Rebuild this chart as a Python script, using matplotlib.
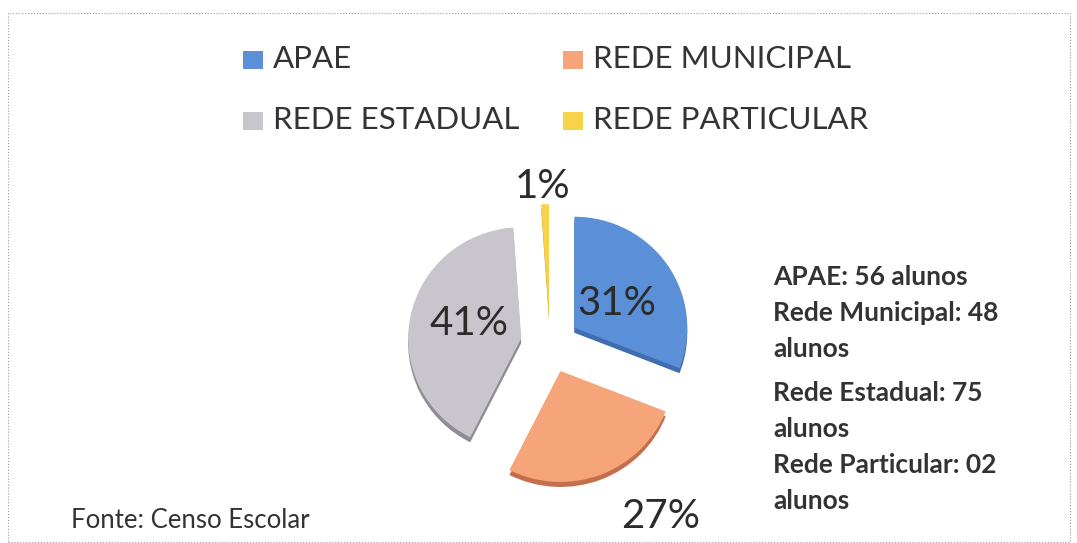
import textwrap
import numpy as np
import matplotlib.pyplot as plt
from matplotlib.patches import Rectangle

plt.rcParams['font.family'] = ['Lato', 'DejaVu Sans']

categorias = ['APAE', 'REDE MUNICIPAL', 'REDE ESTADUAL', 'REDE PARTICULAR']
nomes = ['APAE', 'Rede Municipal', 'Rede Estadual', 'Rede Particular']
alunos = [56, 48, 75, 2]
cores = ['#5b8fd7', '#f6a57b', '#c8c5cd', '#f6d348']
cores_borda = ['#3f6db0', '#c46f4c', '#8f8c96', '#c9a324']
fonte = 'Fonte: Censo Escolar'

W, H = 1077, 543
fig = plt.figure(figsize=(W / 100, H / 100), dpi=100)
fig.patch.set_facecolor('white')

# pie centre / radius in pixels (slightly squashed, like the 3D original)
cx, cy, Rx, Ry = 550, 344, 113, 111
ax = fig.add_axes([0, 0, 1, 1])
expl = [0.26] * len(alunos)

# darker copy shifted down -> fake 3D edge
ax.pie(alunos, explode=expl, colors=cores_borda, startangle=90, counterclock=False,
       center=(0, -0.045), wedgeprops=dict(linewidth=0))
wedges, _ = ax.pie(alunos, explode=expl, colors=cores, startangle=90, counterclock=False,
                   wedgeprops=dict(linewidth=0))

ax.set_xlim(-cx / Rx, (W - cx) / Rx)
ax.set_ylim(-(H - cy) / Ry, cy / Ry)
ax.set_aspect('auto')
ax.axis('off')

# percentage labels: (distance from exploded centre, angle tweak in degrees)
pos_rotulo = [(0.434, -4.7), (1.584, 13.2), (0.482, -4.7), (1.164, 1)]
total = sum(alunos)
for w, v, e, (r, dt) in zip(wedges, alunos, expl, pos_rotulo):
    mid = np.deg2rad((w.theta1 + w.theta2) / 2)
    ox, oy = e * np.cos(mid), e * np.sin(mid)
    a = mid + np.deg2rad(dt)
    ax.text(ox + r * np.cos(a), oy + r * np.sin(a), f'{round(v / total * 100)}%',
            ha='center', va='center', fontsize=29, color='#2b2b2b')

# legend (two columns)
leg_x = [243, 563]
leg_y = [60, 121]
for i, (cat, c) in enumerate(zip(categorias, cores)):
    x = leg_x[i % 2]
    y = leg_y[i // 2]
    fig.patches.append(Rectangle((x / W, 1 - (y + 8.5) / H), 20 / W, 17 / H,
                                 transform=fig.transFigure, facecolor=c, edgecolor='none'))
    fig.text((x + 30) / W, 1 - (y - 1) / H, cat, ha='left', va='center',
             fontsize=22.5, color='#333333')

# side note
y = 277
gaps = [0, 0, 8, 0]
for nome, n, g in zip(nomes, alunos, gaps):
    y += g
    for linha in textwrap.wrap(f'{nome}: {n:02d} alunos', width=20):
        fig.text(773 / W, 1 - y / H, linha, ha='left', va='center',
                 fontsize=19, fontweight='bold', color='#333333')
        y += 36

fig.text(71 / W, 1 - 521 / H, fonte, ha='left', va='center', fontsize=18.5, color='#333333')

# dotted frame
fig.patches.append(Rectangle((8 / W, 0.002), 1062 / W, 1 - 13 / H - 0.002,
                             transform=fig.transFigure, fill=False,
                             edgecolor='#9a9a9a', linestyle=':', linewidth=0.8))

fig.savefig('out.png', dpi=100)
